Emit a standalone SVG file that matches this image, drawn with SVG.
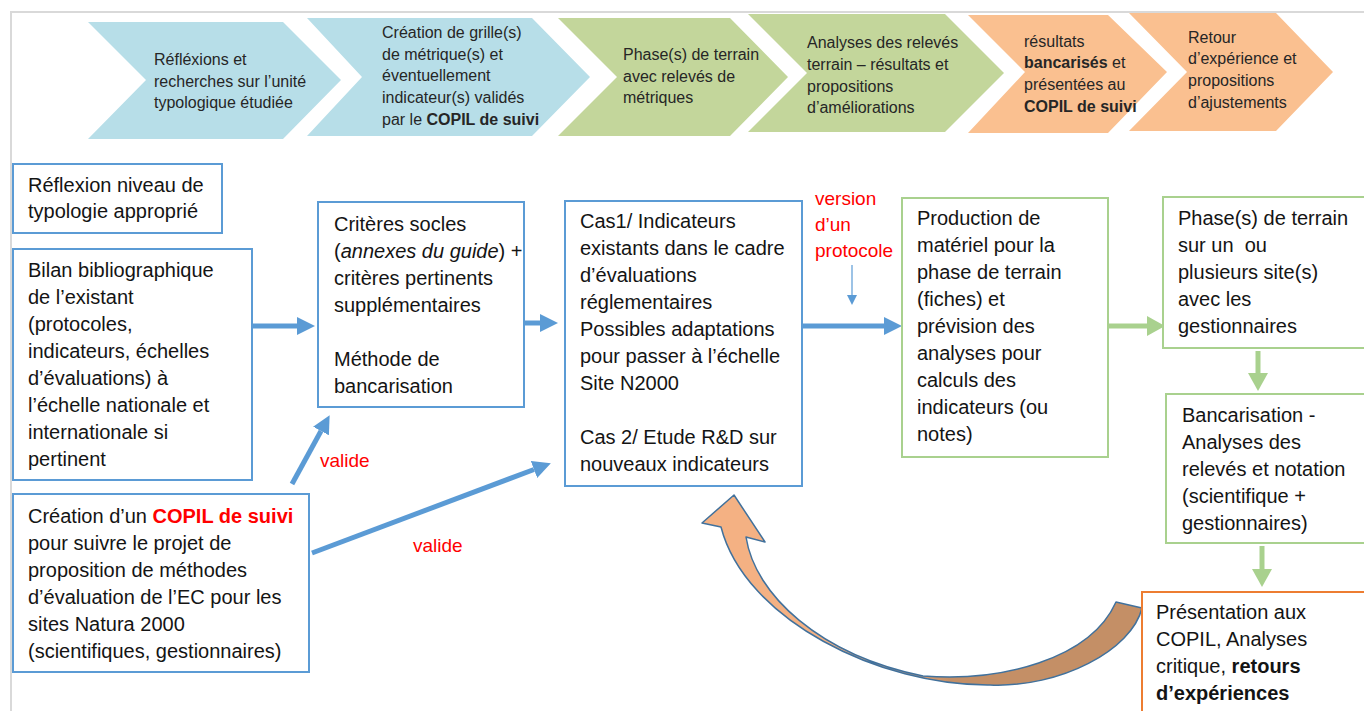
<svg xmlns="http://www.w3.org/2000/svg" width="1364" height="711" viewBox="0 0 1364 711">
<style>
text{font-family:"Liberation Sans",Arial,sans-serif;}
.ch{font-size:16px;fill:#262626;}
.bx{font-size:20px;fill:#141414;}
.lbl{font-size:19px;fill:#ff0000;}
.b{font-weight:bold;}
.blue{fill:#ffffff;stroke:#5b9bd5;stroke-width:2;}
.green{fill:#ffffff;stroke:#a9d18e;stroke-width:2;}
.orange{fill:#ffffff;stroke:#ed7d31;stroke-width:2;}
.ca{fill:#b7dee8;}
.cg{fill:#c3d69b;}
.co{fill:#fac090;}
.ab{stroke:#5b9bd5;stroke-width:5;fill:none;}
.ag{stroke:#a9d18e;stroke-width:5;fill:none;}
</style>
<defs>
<marker id="hb" markerUnits="userSpaceOnUse" markerWidth="18" markerHeight="18" refX="0" refY="9" orient="auto">
<path d="M0,0 L18,9 L0,18 Z" fill="#5b9bd5"/>
</marker>
<marker id="hg" markerUnits="userSpaceOnUse" markerWidth="18" markerHeight="20" refX="0" refY="10" orient="auto">
<path d="M0,0 L18,10 L0,20 Z" fill="#a9d18e"/>
</marker>
<marker id="hs" markerUnits="userSpaceOnUse" markerWidth="10" markerHeight="10" refX="0" refY="5" orient="auto">
<path d="M0,0 L10,5 L0,10 Z" fill="#5b9bd5"/>
</marker>
<linearGradient id="cg" gradientUnits="userSpaceOnUse" x1="880" y1="0" x2="950" y2="0">
<stop offset="0" stop-color="#f4b183"/>
<stop offset="1" stop-color="#c48f66"/>
</linearGradient>
</defs>
<rect x="0" y="0" width="1364" height="711" fill="#ffffff"/>
<path d="M11,711 L11,12 L1364,12" fill="none" stroke="#d9d9d9" stroke-width="2"/>

<g id="chevron1">
<polygon class="ca" points="88,22 283,22 341,80 283,139 88,139 146,80"/>
<text class="ch"><tspan x="154" y="65">Réfléxions et</tspan><tspan x="154" y="87">recherches sur l’unité</tspan><tspan x="154" y="108">typologique étudiée</tspan></text>
</g>
<g id="chevron2">
<polygon class="ca" points="307,18 532,18 590,77 532,136 307,136 362,77"/>
<text class="ch"><tspan x="382" y="38">Création de grille(s)</tspan><tspan x="382" y="60">de métrique(s) et</tspan><tspan x="382" y="81">éventuellement</tspan><tspan x="382" y="103">indicateur(s) validés</tspan><tspan x="382" y="125">par le <tspan class="b">COPIL de suivi</tspan></tspan></text>
</g>
<g id="chevron3">
<polygon class="cg" points="558,18 730,18 788,77 730,136 558,136 617,77"/>
<text class="ch"><tspan x="623" y="60">Phase(s) de terrain</tspan><tspan x="623" y="82">avec relevés de</tspan><tspan x="623" y="103">métriques</tspan></text>
</g>
<g id="chevron4">
<polygon class="cg" points="748,14 945,14 1004,73 945,132 748,132 807,73"/>
<text class="ch"><tspan x="807" y="48">Analyses des relevés</tspan><tspan x="807" y="70">terrain – résultats et</tspan><tspan x="807" y="92">propositions</tspan><tspan x="807" y="113">d’améliorations</tspan></text>
</g>
<g id="chevron5">
<polygon class="co" points="968,15 1108,15 1167,72 1108,133 968,133 1025,72"/>
<text class="ch"><tspan x="1024" y="47">résultats</tspan><tspan x="1024" y="68"><tspan class="b">bancarisés</tspan> et</tspan><tspan x="1024" y="90">présentées au</tspan><tspan x="1024" y="112" class="b">COPIL de suivi</tspan></text>
</g>
<g id="chevron6">
<polygon class="co" points="1129,13 1276,13 1333,72 1276,131 1129,131 1187,72"/>
<text class="ch"><tspan x="1188" y="43">Retour</tspan><tspan x="1188" y="64">d’expérience et</tspan><tspan x="1188" y="86">propositions</tspan><tspan x="1188" y="108">d’ajustements</tspan></text>
</g>

<g id="connectors">
<line class="ab" x1="252" y1="326" x2="297" y2="326" marker-end="url(#hb)"/>
<line class="ab" x1="524" y1="323" x2="540" y2="323" marker-end="url(#hb)"/>
<line class="ab" x1="802" y1="326" x2="884" y2="326" marker-end="url(#hb)"/>
<line class="ab" x1="292" y1="484" x2="321" y2="431" marker-end="url(#hb)"/>
<line class="ab" x1="312" y1="553" x2="534" y2="469.5" marker-end="url(#hb)"/>
<line x1="852" y1="265" x2="852" y2="295" stroke="#5b9bd5" stroke-width="1.2" marker-end="url(#hs)"/>
<line class="ag" x1="1108" y1="326" x2="1147" y2="326" marker-end="url(#hg)"/>
<line class="ag" x1="1258" y1="351" x2="1258" y2="373" marker-end="url(#hg)"/>
<line class="ag" x1="1262" y1="546" x2="1262" y2="569" marker-end="url(#hg)"/>
<path d="M734,495 L765,542 L746,537 C755,595 820,655 923,676 C1000,682 1090,660 1116,602 L1142,608 C1132,650 1060,688 990,685 C880,686 745,620 721,527 L702,523 Z" fill="url(#cg)" stroke="#41719c" stroke-width="1.5" stroke-linejoin="round"/>
<text class="lbl" x="815" y="205">version</text>
<text class="lbl" x="815" y="231">d’un</text>
<text class="lbl" x="815" y="257">protocole</text>
<text class="lbl" x="320" y="467">valide</text>
<text class="lbl" x="413" y="552">valide</text>
</g>

<g id="box-reflexion">
<rect class="blue" x="13" y="164" width="209" height="69"/>
<text class="bx"><tspan x="28" y="192">Réflexion niveau de</tspan><tspan x="28" y="218">typologie approprié</tspan></text>
</g>
<g id="box-bilan">
<rect class="blue" x="13" y="249" width="239" height="231"/>
<text class="bx"><tspan x="28" y="277">Bilan bibliographique</tspan><tspan x="28" y="304">de l’existant</tspan><tspan x="28" y="331">(protocoles,</tspan><tspan x="28" y="358">indicateurs, échelles</tspan><tspan x="28" y="385">d’évaluations) à</tspan><tspan x="28" y="412">l’échelle nationale et</tspan><tspan x="28" y="439">internationale si</tspan><tspan x="28" y="466">pertinent</tspan></text>
</g>
<g id="box-copil">
<rect class="blue" x="13" y="494" width="296" height="178"/>
<text class="bx"><tspan x="28" y="523">Création d’un <tspan class="b" fill="#ff0000">COPIL de suivi</tspan></tspan><tspan x="28" y="550">pour suivre le projet de</tspan><tspan x="28" y="577">proposition de méthodes</tspan><tspan x="28" y="604">d’évaluation de l’EC pour les</tspan><tspan x="28" y="631">sites Natura 2000</tspan><tspan x="28" y="658">(scientifiques, gestionnaires)</tspan></text>
</g>
<g id="box-criteres">
<rect class="blue" x="318" y="202" width="206" height="205"/>
<text class="bx"><tspan x="334" y="231">Critères socles</tspan><tspan x="334" y="258">(<tspan font-style="italic">annexes du guide</tspan>) +</tspan><tspan x="334" y="285">critères pertinents</tspan><tspan x="334" y="312">supplémentaires</tspan><tspan x="334" y="366">Méthode de</tspan><tspan x="334" y="393">bancarisation</tspan></text>
</g>
<g id="box-cas">
<rect class="blue" x="565" y="201" width="237" height="285"/>
<text class="bx"><tspan x="580" y="228">Cas1/ Indicateurs</tspan><tspan x="580" y="255">existants dans le cadre</tspan><tspan x="580" y="282">d’évaluations</tspan><tspan x="580" y="309">réglementaires</tspan><tspan x="580" y="336">Possibles adaptations</tspan><tspan x="580" y="363">pour passer à l’échelle</tspan><tspan x="580" y="390">Site N2000</tspan><tspan x="580" y="444">Cas 2/ Etude R&amp;D sur</tspan><tspan x="580" y="471">nouveaux indicateurs</tspan></text>
</g>
<g id="box-production">
<rect class="green" x="902" y="198" width="206" height="259"/>
<text class="bx"><tspan x="917" y="225">Production de</tspan><tspan x="917" y="252">matériel pour la</tspan><tspan x="917" y="279">phase de terrain</tspan><tspan x="917" y="306">(fiches) et</tspan><tspan x="917" y="333">prévision des</tspan><tspan x="917" y="360">analyses pour</tspan><tspan x="917" y="387">calculs des</tspan><tspan x="917" y="414">indicateurs (ou</tspan><tspan x="917" y="441">notes)</tspan></text>
</g>
<g id="box-phase">
<rect class="green" x="1163" y="197" width="210" height="151"/>
<text class="bx"><tspan x="1178" y="225">Phase(s) de terrain</tspan><tspan x="1178" y="252" xml:space="preserve">sur un  ou</tspan><tspan x="1178" y="279">plusieurs site(s)</tspan><tspan x="1178" y="306">avec les</tspan><tspan x="1178" y="333">gestionnaires</tspan></text>
</g>
<g id="box-bancarisation">
<rect class="green" x="1166" y="394" width="210" height="149"/>
<text class="bx"><tspan x="1182" y="422">Bancarisation -</tspan><tspan x="1182" y="449">Analyses des</tspan><tspan x="1182" y="476">relevés et notation</tspan><tspan x="1182" y="503">(scientifique +</tspan><tspan x="1182" y="530">gestionnaires)</tspan></text>
</g>
<g id="box-presentation">
<rect class="orange" x="1142" y="592" width="230" height="130"/>
<text class="bx"><tspan x="1156" y="619">Présentation aux</tspan><tspan x="1156" y="646">COPIL, Analyses</tspan><tspan x="1156" y="673">critique, <tspan class="b">retours</tspan></tspan><tspan x="1156" y="700" class="b">d’expériences</tspan></text>
</g>
</svg>
